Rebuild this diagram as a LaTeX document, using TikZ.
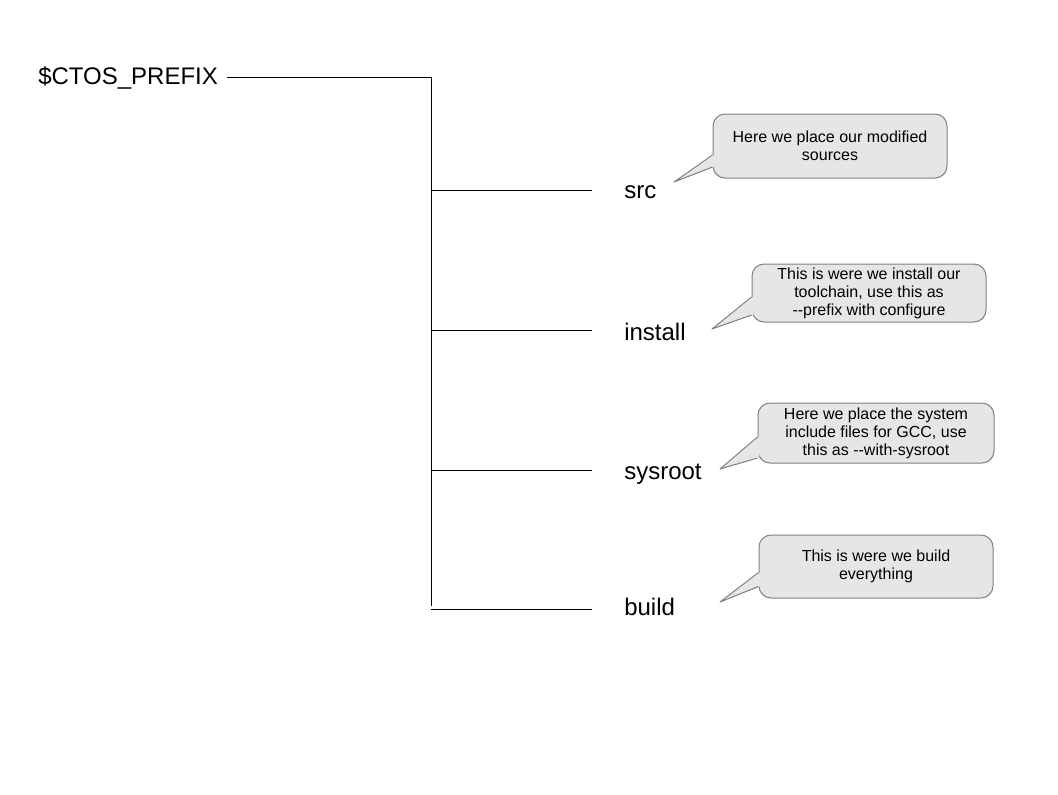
\documentclass[tikz,border=0pt]{standalone}
\usepackage{fontspec}
\setmainfont{Liberation Sans}
\usetikzlibrary{calc,backgrounds}
\definecolor{bubblefill}{HTML}{E6E6E6}
\definecolor{bubbleline}{HTML}{808080}
\tikzset{
  lbl/.style={inner sep=0pt, font=\fontsize{18pt}{21pt}\selectfont, text=black},
  tree/.style={draw=black, line width=0.75pt},
  bubble/.style={draw=bubbleline, fill=bubblefill, line width=0.75pt, rounded corners=9pt,
    inner sep=0pt, align=center, font=\fontsize{12pt}{13.5pt}\selectfont},
  tailfill/.style={fill=bubblefill},
  tailline/.style={draw=bubbleline, line width=0.75pt, line join=round},
}
\begin{document}
\begin{tikzpicture}[x=0.75pt,y=-0.75pt]
\useasboundingbox (0,0) rectangle (1058,794);
% root and tree
\node[lbl, anchor=base west] (root) at (38,84) {\$CTOS\_PREFIX};
\coordinate (r0) at (227,77);
\coordinate (t0) at (431,77);
\coordinate (tb) at (431,606);
\draw[tree] (r0) -- (t0) -- (tb);
\coordinate (b1) at (431,190.5); \coordinate (e1) at (592,190.5);
\coordinate (b2) at (431,330.5); \coordinate (e2) at (592,330.5);
\coordinate (b3) at (431,470.5); \coordinate (e3) at (592,470.5);
\coordinate (b4) at (431,609);   \coordinate (e4) at (592,609);
\draw[tree] (b1) -- (e1);
\draw[tree] (b2) -- (e2);
\draw[tree] (b3) -- (e3);
\draw[tree] (b4) -- (e4);
\node[lbl, anchor=base west] (src) at (624,198) {src};
\node[lbl, anchor=base west] (install) at (624,340) {install};
\node[lbl, anchor=base west] (sysroot) at (624,479) {sysroot};
\node[lbl, anchor=base west] (build) at (624,615) {build};
% callouts
\node[bubble, minimum width=234*0.75pt, minimum height=64*0.75pt] (c1) at (830,146)
  {Here we place our modified\\sources};
\node[bubble, minimum width=234*0.75pt, minimum height=58*0.75pt] (c2) at (869,293)
  {This is were we install our\\toolchain, use this as\\-{}-prefix with configure};
\node[bubble, minimum width=236*0.75pt, minimum height=60*0.75pt] (c3) at (876,433)
  {Here we place the system\\include files for GCC, use\\this as -{}-with-sysroot};
\node[bubble, minimum width=234*0.75pt, minimum height=63*0.75pt] (c4) at (876,566.5)
  {This is were we build\\everything};
% tails
\coordinate (p1) at (674,182);
\coordinate (p2) at (712,329);
\coordinate (p3) at (720,469);
\coordinate (p4) at (720,602);
\foreach \c/\p/\a/\b in {c1/p1/9/21, c2/p2/4/22, c3/p3/4/25, c4/p4/6/20}{
  \fill[tailfill] ($(\c.west)+(1.5,\a)$) -- (\p) -- ($(\c.west)+(1.5,\b)$) -- cycle;
  \draw[tailline] ($(\c.west)+(0,\a)$) -- (\p) -- ($(\c.west)+(0,\b)$);
}
\end{tikzpicture}
\end{document}
